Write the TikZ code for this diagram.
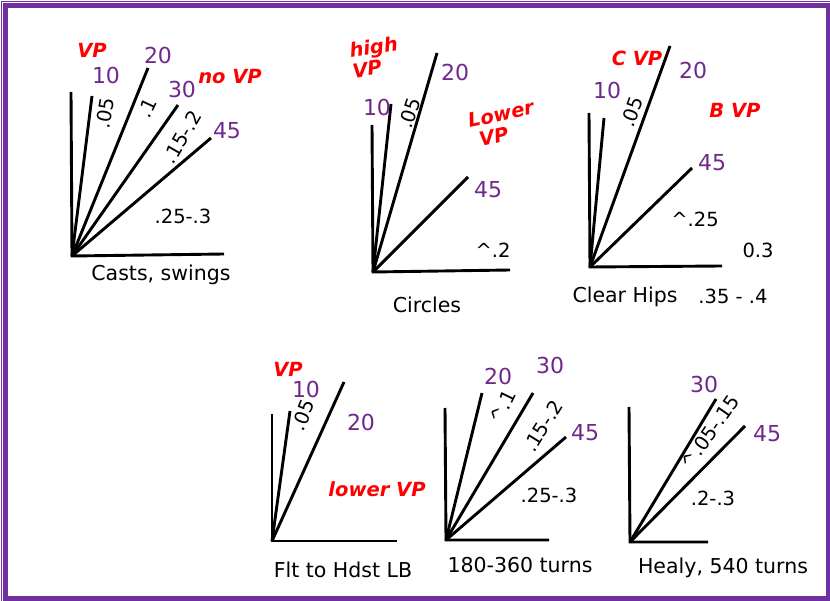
\documentclass[tikz,border=0pt]{standalone}
\usepackage{fontspec}
\setmainfont{DejaVu Sans}
\usepackage{xcolor}
\definecolor{framec}{RGB}{112,48,160}
\definecolor{degc}{RGB}{112,40,140}
\definecolor{vpc}{RGB}{255,0,0}

\begin{document}
\begin{tikzpicture}[x=1pt,y=-1pt,
 arm/.style={line width=2.9pt},
 deg/.style={text=degc,font=\fontsize{22}{23}\selectfont,inner sep=0pt},
 val/.style={font=\fontsize{19.5}{20}\selectfont,inner sep=0pt},
 vp/.style={text=vpc,font=\fontsize{19.5}{21}\selectfont\bfseries\itshape,inner sep=0pt,align=left},
 caption/.style={font=\fontsize{20.5}{22}\selectfont,inner sep=0pt}]
\useasboundingbox (0,0) rectangle (830,601);
% frame
\draw[framec,line width=1pt] (1.8,601) -- (1.8,1.8) -- (830,1.8);
\draw[framec,line width=4.2pt] (5.5,5.5) rectangle (828,598.5);

% Casts, swings
\coordinate (o1) at (72,256); \coordinate (v1) at (71,92); \coordinate (h1) at (224,254);
\coordinate (a1) at (92,96); \coordinate (b1) at (148,68); \coordinate (c1) at (178,105); \coordinate (d1) at (211,138);
\draw[arm] (v1)--(o1)--(h1);
\draw[arm] (o1)--(a1); \draw[arm] (o1)--(b1); \draw[arm] (o1)--(c1); \draw[arm] (o1)--(d1);
\node[vp] (vp1) at (92,50) {VP};
\node[vp] (novp1) at (230,77) {no VP};
\node[deg] (n10a) at (106,75) {10};
\node[deg] (n20a) at (158,55) {20};
\node[deg] (n30a) at (182,89) {30};
\node[deg] (n45a) at (227,131) {45};
\node[val,rotate=80] (p05a) at (105,113) {.05};
\node[val,rotate=65] (p1a) at (147,108) {.1};
\node[val,rotate=60] (p15a) at (182,137) {.15-.2};
\node[val] (p25a) at (183,216) {.25-.3};
\node[caption] (cap1) at (161,275) {Casts, swings};

% Circles
\coordinate (o2) at (373,272); \coordinate (v2) at (372,125); \coordinate (h2) at (510,270);
\coordinate (a2) at (391,104); \coordinate (b2) at (437,53); \coordinate (d2) at (468,177);
\draw[arm] (v2)--(o2)--(h2);
\draw[arm] (o2)--(a2); \draw[arm] (o2)--(b2); \draw[arm] (o2)--(d2);
\node[vp,rotate=8] (vp2) at (375,57) {high\\VP};
\node[vp,rotate=12,align=center] (lowvp2) at (503,124) {Lower\\\hspace*{-1.2em}VP};
\node[deg] (n10b) at (377,107) {10};
\node[deg] (n20b) at (455,72) {20};
\node[deg] (n45b) at (488,190) {45};
\node[val,rotate=72] (p05b) at (410,113) {.05};
\node[val] (p2b) at (493,250) {\textasciicircum.2};
\node[caption] (cap2) at (427,305) {Circles};

% Clear Hips
\coordinate (o3) at (590,267); \coordinate (v3) at (589,113); \coordinate (h3) at (722,266);
\coordinate (a3) at (604,118); \coordinate (b3) at (670,46); \coordinate (d3) at (692,168);
\draw[arm] (v3)--(o3)--(h3);
\draw[arm] (o3)--(a3); \draw[arm] (o3)--(b3); \draw[arm] (o3)--(d3);
\node[vp] (cvp3) at (637,58) {C VP};
\node[vp] (bvp3) at (735,110) {B VP};
\node[deg] (n10c) at (607,90) {10};
\node[deg] (n20c) at (693,70) {20};
\node[deg] (n45c) at (712,163) {45};
\node[val,rotate=70] (p05c) at (632,112) {.05};
\node[val] (p25c) at (695,219) {\textasciicircum.25};
\node[val] (p3c) at (758,250) {0.3};
\node[caption] (cap3) at (625,297) {Clear Hips};
\node[val] (p35c) at (733,296) {.35 - .4};

% Flt to Hdst LB
\coordinate (o4) at (272,541); \coordinate (v4) at (272,414); \coordinate (h4) at (397,541);
\coordinate (a4) at (290,411); \coordinate (b4) at (344,382);
\draw[arm] (v4)--(o4)--(h4);
\draw[arm] (o4)--(a4); \draw[arm] (o4)--(b4);
\node[vp] (vp4) at (288,369) {VP};
\node[vp] (lowvp4) at (377,489) {lower VP};
\node[deg] (n10d) at (306,389) {10};
\node[deg] (n20d) at (361,422) {20};
\node[val,rotate=68] (p05d) at (303,415) {.05};
\node[caption] (cap4) at (343,570) {Flt to Hdst LB};

% 180-360 turns
\coordinate (o5) at (446,540); \coordinate (v5) at (445,408); \coordinate (h5) at (549,540);
\coordinate (b5) at (482,393); \coordinate (c5) at (533,393); \coordinate (d5) at (566,437);
\draw[arm] (v5)--(o5)--(h5);
\draw[arm] (o5)--(b5); \draw[arm] (o5)--(c5); \draw[arm] (o5)--(d5);
\node[deg] (n20e) at (498,376) {20};
\node[deg] (n30e) at (550,365) {30};
\node[deg] (n45e) at (585,433) {45};
\node[val,rotate=64] (p1e) at (503,407) {\textasciicircum.1};
\node[val,rotate=58] (p15e) at (543,426) {.15-.2};
\node[val] (p25e) at (549,495) {.25-.3};
\node[caption] (cap5) at (520,565) {180-360 turns};

% Healy, 540 turns
\coordinate (o6) at (630,542); \coordinate (v6) at (629,407); \coordinate (h6) at (708,542);
\coordinate (c6) at (716,399); \coordinate (d6) at (745,426);
\draw[arm] (v6)--(o6)--(h6);
\draw[arm] (o6)--(c6); \draw[arm] (o6)--(d6);
\node[deg] (n30f) at (704,384) {30};
\node[deg] (n45f) at (767,434) {45};
\node[val,rotate=55] (p05f) at (710,432) {\textasciicircum.05-.15};
\node[val] (p2f) at (713,498) {.2-.3};
\node[caption] (cap6) at (723,568) {Healy, 540 turns};
\end{tikzpicture}
\end{document}
